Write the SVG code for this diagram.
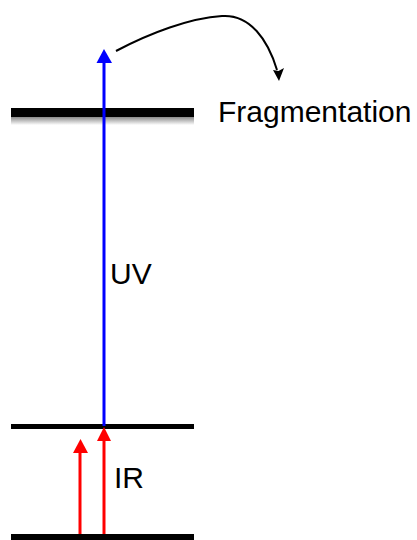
<svg xmlns="http://www.w3.org/2000/svg" width="417" height="540" viewBox="0 0 417 540">
<defs>
<style>
.lbl{font-family:"Liberation Sans",Arial,sans-serif;font-size:30px;fill:#000}
.lvl{fill:#000}
</style>
<linearGradient id="shadow" x1="0" y1="0" x2="0" y2="1">
<stop offset="0" stop-color="#8a8a8a"/>
<stop offset="1" stop-color="#fff"/>
</linearGradient>
</defs>
<rect width="417" height="540" fill="#fff"/>
<g id="level-top">
<rect x="11" y="117" width="183" height="8" fill="url(#shadow)"/>
<rect class="lvl" x="11" y="108" width="183" height="9"/>
</g>
<g id="level-mid">
<rect class="lvl" x="11" y="424" width="183" height="5"/>
</g>
<g id="level-bottom">
<rect class="lvl" x="11" y="534" width="183" height="6"/>
</g>
<g id="connectors">
<g id="uv-arrow">
<line x1="104" y1="426" x2="104" y2="62" stroke="#00f" stroke-width="3"/>
<polygon points="104,49 112,63 96.5,63" fill="#00f"/>
</g>
<g id="ir-arrow-1">
<line x1="80" y1="534" x2="80" y2="452" stroke="#f00" stroke-width="3"/>
<polygon points="80.5,439 88,453 73,453" fill="#f00"/>
</g>
<g id="ir-arrow-2">
<line x1="104" y1="534" x2="104" y2="440" stroke="#f00" stroke-width="3"/>
<polygon points="104,427 111,441 97,441" fill="#f00"/>
</g>
<g id="frag-arrow">
<path d="M116,51 C150,33 190,18 222,16 C250,14 268,40 277,70" fill="none" stroke="#000" stroke-width="2"/>
<polygon points="279,81 284,68 278.5,71 273,70" fill="#000"/>
</g>
</g>
<g id="label-fragmentation"><text class="lbl" x="218" y="122">Fragmentation</text></g>
<g id="label-uv"><text class="lbl" x="110" y="284">UV</text></g>
<g id="label-ir"><text class="lbl" x="114" y="488">IR</text></g>
</svg>
